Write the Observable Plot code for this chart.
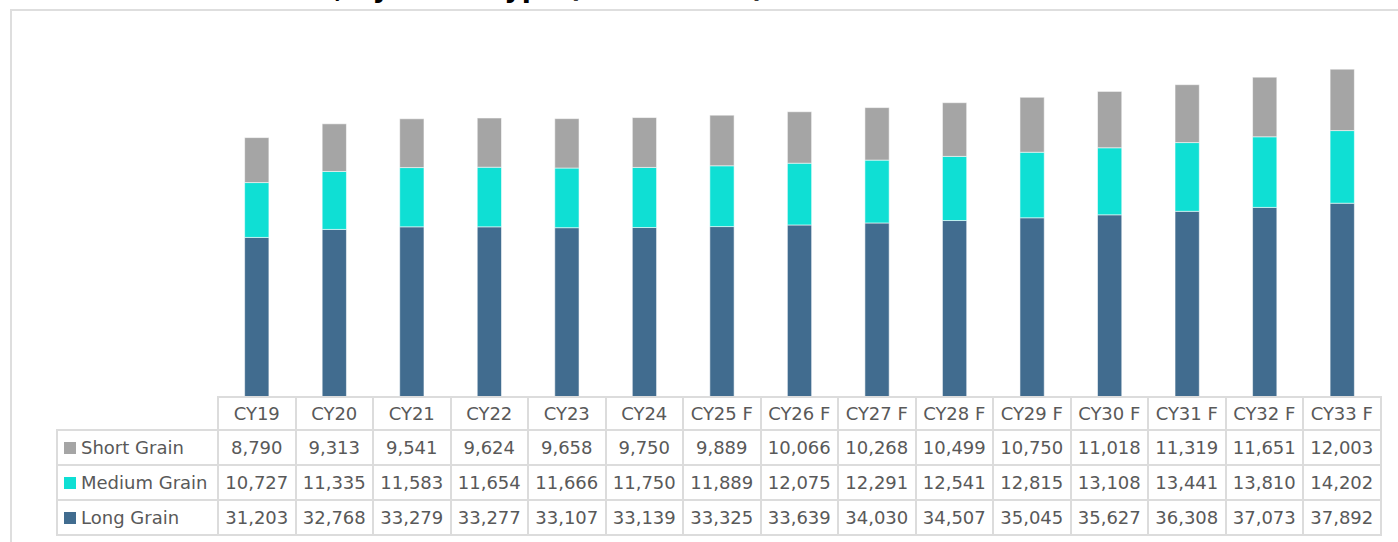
<!DOCTYPE html>
<html>
<head>
<meta charset="utf-8">
<script src="https://cdn.jsdelivr.net/npm/d3@7"></script>
<script src="https://cdn.jsdelivr.net/npm/@observablehq/plot@0.6"></script>
<style>
  html, body { margin: 0; padding: 0; background: #fff; overflow: hidden; }
  body { width: 1398px; height: 542px; position: relative; font-family: "DejaVu Sans", Verdana, sans-serif; }
  #title { position: absolute; left: 15px; top: -27px; font-weight: bold; font-size: 26.6px; color: #000; white-space: nowrap; line-height: 30px; }
  #box { position: absolute; left: 10px; top: 9px; width: 1500px; height: 700px; border-left: 2px solid #dedede; border-top: 2px solid #dedede; }
  #chart { position: absolute; left: 0; top: 0; }
  #table { position: absolute; left: 56px; top: 396px; border-collapse: collapse; table-layout: fixed; color: #595959; font-size: 18px; }
  #table td { border: 2px solid #dcdcdc; padding: 0; text-align: center; white-space: nowrap; overflow: hidden; }
  #table tr.head td { height: 31px; }
  #table tr.row td { height: 33px; }
  #table td.lab { text-align: left; padding-left: 6px; }
  #table td.blank { border-top: none; border-left: none; }
  .sw { display: inline-block; width: 12px; height: 12px; margin-right: 5px; vertical-align: 0px; }
</style>
</head>
<body>
<div id="title">U.S. Rice Market Size, by Grain Type (USD Million)</div>
<div id="box"></div>
<div id="chart"></div>
<table id="table"></table>
<script>
const years = ["CY19","CY20","CY21","CY22","CY23","CY24","CY25 F","CY26 F","CY27 F","CY28 F","CY29 F","CY30 F","CY31 F","CY32 F","CY33 F"];
const seriesNames = ["Short Grain","Medium Grain","Long Grain"];
const seriesColors = ["#a5a5a5","#0fdfd4","#416c8f"];
const shortGrain = [8790, 9313, 9541, 9624, 9658, 9750, 9889, 10066, 10268, 10499, 10750, 11018, 11319, 11651, 12003];
const mediumGrain = [10727, 11335, 11583, 11654, 11666, 11750, 11889, 12075, 12291, 12541, 12815, 13108, 13441, 13810, 14202];
const longGrain = [31203, 32768, 33279, 33277, 33107, 33139, 33325, 33639, 34030, 34507, 35045, 35627, 36308, 37073, 37892];

const valuesByName = {"Short Grain": shortGrain, "Medium Grain": mediumGrain, "Long Grain": longGrain};
// stacking order: Long (bottom), Medium, Short (top)
const stackOrder = ["Long Grain","Medium Grain","Short Grain"];
const data = [];
for (const name of stackOrder) {
  years.forEach((y, i) => data.push({year: y, grain: name, value: valuesByName[name][i]}));
}

const chart = Plot.plot({
  width: 1398,
  height: 397,
  marginLeft: 218,
  marginRight: 17,
  marginTop: 39,
  marginBottom: 0,
  x: {domain: years, paddingInner: 0.687, paddingOuter: 0.3435, round: false, axis: null},
  y: {domain: [0, 70000], axis: null},
  color: {domain: seriesNames, range: seriesColors},
  marks: [
    Plot.barY(data, {x: "year", y: "value", fill: "grain", stroke: "#ffffff", strokeOpacity: 0.55, strokeWidth: 1})
  ]
});
chart.style.background = "transparent";
document.getElementById("chart").appendChild(chart);

// data table below the chart
const table = document.getElementById("table");
const colgroup = document.createElement("colgroup");
const c0 = document.createElement("col"); c0.style.width = "161px"; colgroup.appendChild(c0);
years.forEach(() => { const c = document.createElement("col"); c.style.width = "77.5px"; colgroup.appendChild(c); });
table.appendChild(colgroup);
const fmt = d3.format(",");
const head = document.createElement("tr"); head.className = "head";
const blank = document.createElement("td"); blank.className = "blank"; head.appendChild(blank);
years.forEach(y => { const td = document.createElement("td"); td.textContent = y; head.appendChild(td); });
table.appendChild(head);
seriesNames.forEach((name, k) => {
  const tr = document.createElement("tr"); tr.className = "row";
  const lab = document.createElement("td"); lab.className = "lab";
  const sw = document.createElement("span"); sw.className = "sw"; sw.style.background = seriesColors[k];
  lab.appendChild(sw); lab.appendChild(document.createTextNode(name));
  tr.appendChild(lab);
  valuesByName[name].forEach(v => { const td = document.createElement("td"); td.textContent = fmt(v); tr.appendChild(td); });
  table.appendChild(tr);
});
</script>
</body>
</html>
